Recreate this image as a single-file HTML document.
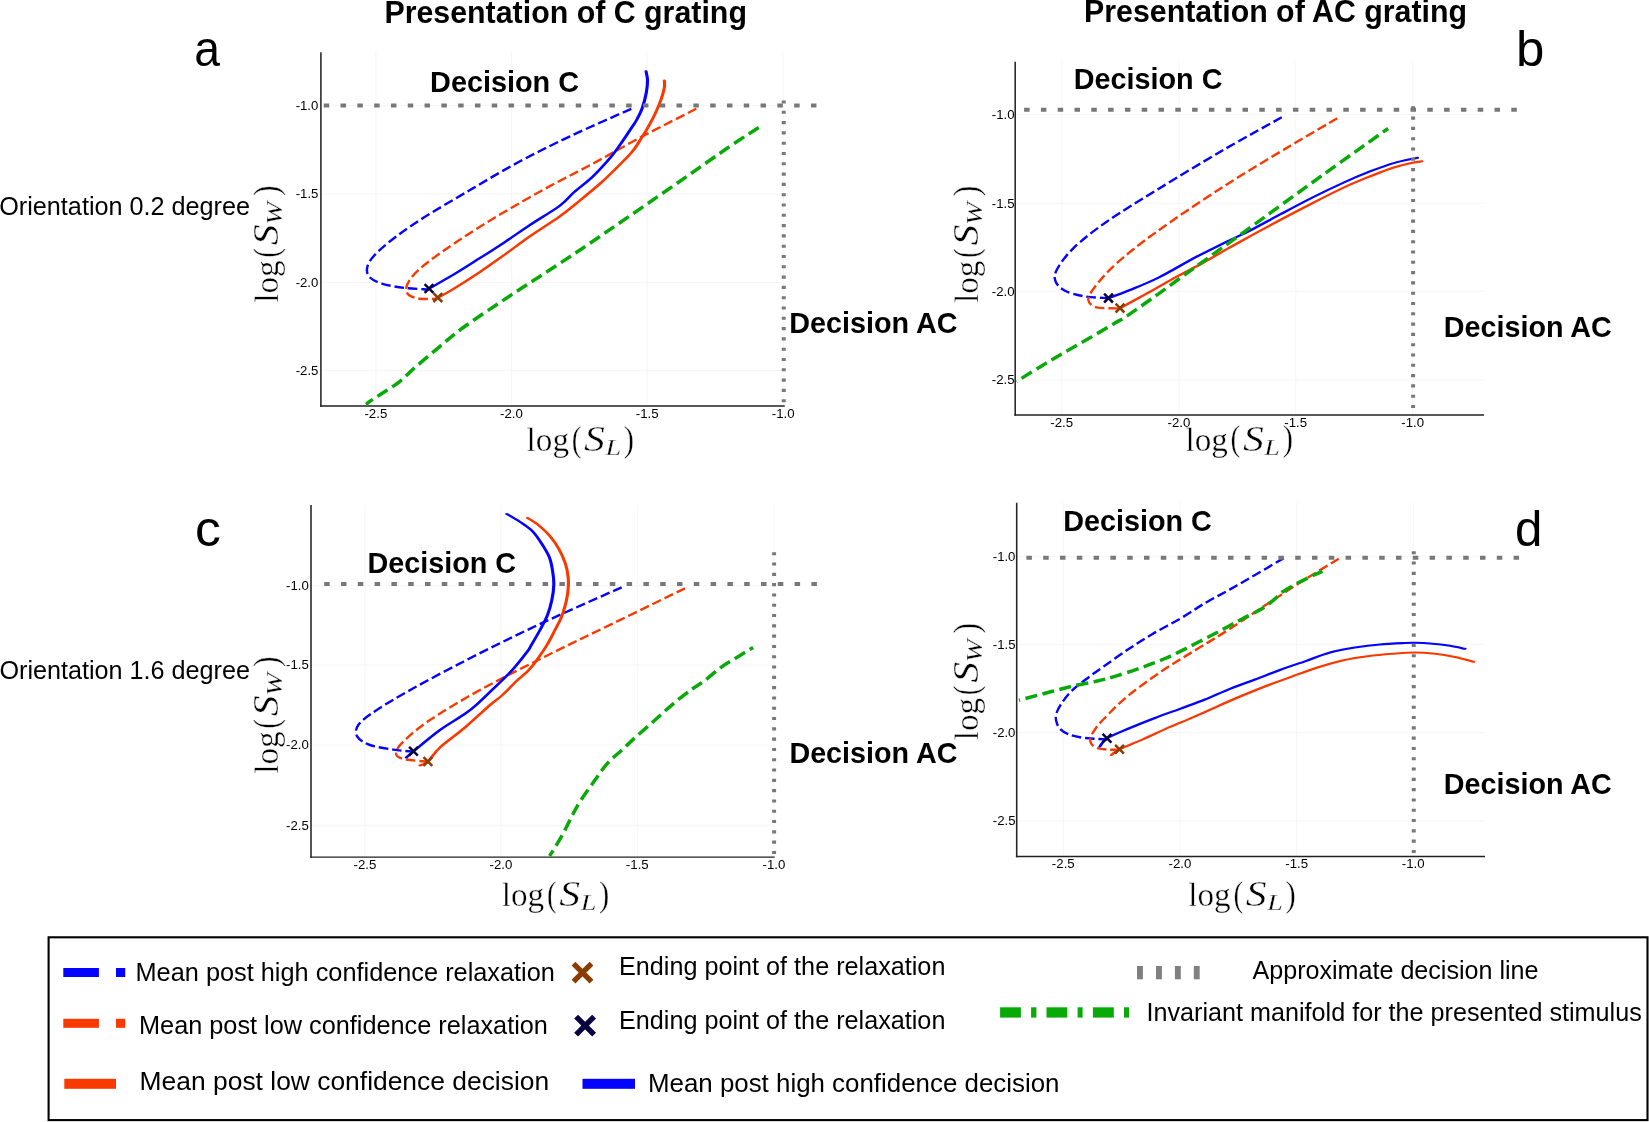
<!DOCTYPE html>
<html lang="en">
<head>
<meta charset="utf-8">
<title>Figure</title>
<style>
html,body{margin:0;padding:0;background:#fff;}
body{width:1649px;height:1122px;overflow:hidden;font-family:"Liberation Sans",sans-serif;}
svg{display:block;will-change:transform;}
text{fill:#000;}
</style>
</head>
<body>
<svg width="1649" height="1122" viewBox="0 0 1649 1122">
<rect x="0" y="0" width="1649" height="1122" fill="#ffffff"/>
<text x="384.40" y="22.50" font-family="Liberation Sans, sans-serif" font-size="30.80" font-weight="bold" font-style="normal" text-anchor="start"  textLength="362.54" lengthAdjust="spacingAndGlyphs">Presentation of C grating</text>
<text x="1084.11" y="22.40" font-family="Liberation Sans, sans-serif" font-size="30.80" font-weight="bold" font-style="normal" text-anchor="start"  textLength="382.82" lengthAdjust="spacingAndGlyphs">Presentation of AC grating</text>
<text x="194.15" y="65.80" font-family="Liberation Sans, sans-serif" font-size="50.00" font-weight="normal" font-style="normal" text-anchor="start"  textLength="25.75" lengthAdjust="spacingAndGlyphs">a</text>
<text x="1515.91" y="65.60" font-family="Liberation Sans, sans-serif" font-size="50.00" font-weight="normal" font-style="normal" text-anchor="start"  textLength="28.35" lengthAdjust="spacingAndGlyphs">b</text>
<text x="194.99" y="545.70" font-family="Liberation Sans, sans-serif" font-size="50.00" font-weight="normal" font-style="normal" text-anchor="start"  textLength="25.82" lengthAdjust="spacingAndGlyphs">c</text>
<text x="1515.06" y="545.50" font-family="Liberation Sans, sans-serif" font-size="50.00" font-weight="normal" font-style="normal" text-anchor="start"  textLength="27.41" lengthAdjust="spacingAndGlyphs">d</text>
<text x="-0.78" y="215.00" font-family="Liberation Sans, sans-serif" font-size="26.00" font-weight="normal" font-style="normal" text-anchor="start"  textLength="250.80" lengthAdjust="spacingAndGlyphs">Orientation 0.2 degree</text>
<text x="-0.58" y="678.60" font-family="Liberation Sans, sans-serif" font-size="26.00" font-weight="normal" font-style="normal" text-anchor="start"  textLength="250.60" lengthAdjust="spacingAndGlyphs">Orientation 1.6 degree</text>
<path d="M375.9 52.3 V406.0" stroke="#f5f5f5" stroke-width="1" fill="none"/>
<path d="M511.5 52.3 V406.0" stroke="#f5f5f5" stroke-width="1" fill="none"/>
<path d="M647.2 52.3 V406.0" stroke="#f5f5f5" stroke-width="1" fill="none"/>
<path d="M783.2 52.3 V406.0" stroke="#f5f5f5" stroke-width="1" fill="none"/>
<path d="M320.9 105.5 H784.8" stroke="#f5f5f5" stroke-width="1" fill="none"/>
<path d="M320.9 194.0 H784.8" stroke="#f5f5f5" stroke-width="1" fill="none"/>
<path d="M320.9 282.4 H784.8" stroke="#f5f5f5" stroke-width="1" fill="none"/>
<path d="M320.9 370.7 H784.8" stroke="#f5f5f5" stroke-width="1" fill="none"/>
<path d="M320.9 52.3 V406.7" stroke="#242424" stroke-width="1.55" fill="none"/>
<path d="M320.1 406.0 H784.8" stroke="#202020" stroke-width="1.4" fill="none"/>
<text x="364.46" y="417.90" font-family="Liberation Sans, sans-serif" font-size="12.20" font-weight="normal" font-style="normal" text-anchor="start"  textLength="22.87" lengthAdjust="spacingAndGlyphs">-2.5</text>
<text x="500.06" y="417.90" font-family="Liberation Sans, sans-serif" font-size="12.20" font-weight="normal" font-style="normal" text-anchor="start"  textLength="22.81" lengthAdjust="spacingAndGlyphs">-2.0</text>
<text x="635.76" y="417.90" font-family="Liberation Sans, sans-serif" font-size="12.20" font-weight="normal" font-style="normal" text-anchor="start"  textLength="22.87" lengthAdjust="spacingAndGlyphs">-1.5</text>
<text x="771.76" y="417.90" font-family="Liberation Sans, sans-serif" font-size="12.20" font-weight="normal" font-style="normal" text-anchor="start"  textLength="22.81" lengthAdjust="spacingAndGlyphs">-1.0</text>
<text x="295.66" y="109.80" font-family="Liberation Sans, sans-serif" font-size="12.20" font-weight="normal" font-style="normal" text-anchor="start"  textLength="22.71" lengthAdjust="spacingAndGlyphs">-1.0</text>
<text x="295.66" y="198.30" font-family="Liberation Sans, sans-serif" font-size="12.20" font-weight="normal" font-style="normal" text-anchor="start"  textLength="22.77" lengthAdjust="spacingAndGlyphs">-1.5</text>
<text x="295.66" y="286.70" font-family="Liberation Sans, sans-serif" font-size="12.20" font-weight="normal" font-style="normal" text-anchor="start"  textLength="22.71" lengthAdjust="spacingAndGlyphs">-2.0</text>
<text x="295.66" y="375.00" font-family="Liberation Sans, sans-serif" font-size="12.20" font-weight="normal" font-style="normal" text-anchor="start"  textLength="22.77" lengthAdjust="spacingAndGlyphs">-2.5</text>
<path d="M631.3 108.8C621.1 113.4 588.5 127.6 570.0 136.3C551.5 145.1 536.7 152.4 520.0 161.3C503.3 170.2 486.7 180.2 470.0 190.0C453.3 199.8 433.3 211.4 420.0 220.0C406.7 228.6 397.9 235.1 390.0 241.3C382.1 247.6 376.3 252.9 372.5 257.5C368.7 262.1 367.4 265.5 367.0 268.8C366.6 272.1 367.4 275.0 370.0 277.5C372.6 280.0 376.7 282.1 382.5 283.8C388.3 285.6 397.3 287.1 405.0 288.0C412.7 288.9 424.8 289.2 428.8 289.5" stroke="#0303ff" stroke-width="2.40" fill="none" stroke-linejoin="round" stroke-dasharray="9.5 3.9"/>
<path d="M696.3 108.8C687.3 113.4 659.4 127.4 642.5 136.3C625.6 145.2 611.2 153.8 595.0 162.5C578.8 171.2 561.7 179.6 545.0 188.8C528.3 198.0 509.6 208.8 495.0 217.5C480.4 226.2 468.8 233.8 457.5 241.3C446.2 248.8 435.0 256.7 427.5 262.5C420.0 268.3 416.0 272.1 412.5 276.3C409.0 280.5 406.9 284.4 406.3 287.5C405.7 290.6 406.5 293.1 408.8 295.0C411.1 296.9 415.4 298.2 420.0 298.8C424.6 299.4 433.6 298.8 436.3 298.8" stroke="#f93a00" stroke-width="2.40" fill="none" stroke-linejoin="round" stroke-dasharray="9.5 3.9"/>
<g transform="scale(1.500 1)"><path d="M285.9 288.8C288.8 286.3 297.6 278.9 303.3 273.8C309.0 268.7 314.4 263.4 320.0 258.1C325.6 252.8 331.1 247.4 336.7 241.9C342.2 236.4 347.2 231.1 353.3 225.0C359.4 218.9 368.5 211.0 373.3 205.6C378.2 200.2 378.9 197.3 382.5 192.5C386.1 187.7 391.0 182.6 395.0 176.9C399.0 171.2 403.3 164.0 406.7 158.1C410.0 152.2 412.5 146.6 415.0 141.3C417.5 136.0 420.1 129.8 421.7 126.3C423.2 122.8 423.3 123.1 424.4 120.0C425.5 116.9 427.3 112.1 428.3 107.5C429.4 102.9 430.3 97.1 430.9 92.5C431.4 87.9 431.7 83.5 431.7 80.0C431.6 76.5 430.8 72.8 430.7 71.3" stroke="#0303ff" stroke-width="2.08" fill="none" stroke-linejoin="round" stroke-linecap="round"/></g>
<g transform="scale(1.500 1)"><path d="M291.9 297.8C293.5 296.4 297.0 293.7 301.7 289.4C306.4 285.1 314.2 277.7 320.0 271.9C325.8 266.1 331.1 260.3 336.7 254.4C342.2 248.5 347.2 242.7 353.3 236.3C359.4 230.0 367.9 222.1 373.3 216.3C378.8 210.5 381.3 206.9 385.9 201.3C390.5 195.7 396.7 188.0 400.9 182.5C405.0 177.0 407.4 173.3 410.9 168.1C414.3 162.9 418.8 156.6 421.7 151.3C424.6 146.0 426.4 140.9 428.3 136.3C430.3 131.7 431.8 128.0 433.3 123.8C434.9 119.6 436.3 115.5 437.5 111.3C438.8 107.1 440.0 102.8 440.9 98.8C441.8 94.8 442.6 90.5 442.9 87.5C443.3 84.5 442.9 81.8 442.9 80.6" stroke="#f93a00" stroke-width="2.08" fill="none" stroke-linejoin="round" stroke-linecap="round"/></g>
<path d="M323.75 103.50h5.50v4.00h-5.50zM340.55 103.50h5.50v4.00h-5.50zM357.35 103.50h5.50v4.00h-5.50zM374.15 103.50h5.50v4.00h-5.50zM390.95 103.50h5.50v4.00h-5.50zM407.75 103.50h5.50v4.00h-5.50zM424.55 103.50h5.50v4.00h-5.50zM441.35 103.50h5.50v4.00h-5.50zM458.15 103.50h5.50v4.00h-5.50zM474.95 103.50h5.50v4.00h-5.50zM491.75 103.50h5.50v4.00h-5.50zM508.55 103.50h5.50v4.00h-5.50zM525.35 103.50h5.50v4.00h-5.50zM542.15 103.50h5.50v4.00h-5.50zM558.95 103.50h5.50v4.00h-5.50zM575.75 103.50h5.50v4.00h-5.50zM592.55 103.50h5.50v4.00h-5.50zM609.35 103.50h5.50v4.00h-5.50zM626.15 103.50h5.50v4.00h-5.50zM642.95 103.50h5.50v4.00h-5.50zM659.75 103.50h5.50v4.00h-5.50zM676.55 103.50h5.50v4.00h-5.50zM693.35 103.50h5.50v4.00h-5.50zM710.15 103.50h5.50v4.00h-5.50zM726.95 103.50h5.50v4.00h-5.50zM743.75 103.50h5.50v4.00h-5.50zM760.55 103.50h5.50v4.00h-5.50zM777.35 103.50h5.50v4.00h-5.50zM794.15 103.50h5.50v4.00h-5.50zM810.95 103.50h5.50v4.00h-5.50z" fill="#787878"/>
<path d="M781.75 100.45h4.00v3.10h-4.00zM781.75 110.75h4.00v3.10h-4.00zM781.75 121.05h4.00v3.10h-4.00zM781.75 131.35h4.00v3.10h-4.00zM781.75 141.65h4.00v3.10h-4.00zM781.75 151.95h4.00v3.10h-4.00zM781.75 162.25h4.00v3.10h-4.00zM781.75 172.55h4.00v3.10h-4.00zM781.75 182.85h4.00v3.10h-4.00zM781.75 193.15h4.00v3.10h-4.00zM781.75 203.45h4.00v3.10h-4.00zM781.75 213.75h4.00v3.10h-4.00zM781.75 224.05h4.00v3.10h-4.00zM781.75 234.35h4.00v3.10h-4.00zM781.75 244.65h4.00v3.10h-4.00zM781.75 254.95h4.00v3.10h-4.00zM781.75 265.25h4.00v3.10h-4.00zM781.75 275.55h4.00v3.10h-4.00zM781.75 285.85h4.00v3.10h-4.00zM781.75 296.15h4.00v3.10h-4.00zM781.75 306.45h4.00v3.10h-4.00zM781.75 316.75h4.00v3.10h-4.00zM781.75 327.05h4.00v3.10h-4.00zM781.75 337.35h4.00v3.10h-4.00zM781.75 347.65h4.00v3.10h-4.00zM781.75 357.95h4.00v3.10h-4.00zM781.75 368.25h4.00v3.10h-4.00zM781.75 378.55h4.00v3.10h-4.00zM781.75 388.85h4.00v3.10h-4.00zM781.75 399.15h4.00v3.10h-4.00z" fill="#787878"/>
<path d="M758.7 127.5C753.9 130.6 743.1 137.4 730.0 146.3C716.9 155.2 705.0 163.9 680.0 181.2C655.0 198.5 607.5 231.4 580.0 250.0C552.5 268.6 534.2 279.8 515.0 292.5C495.8 305.2 477.5 317.3 465.0 326.3C452.5 335.3 448.3 339.4 440.0 346.3C431.7 353.2 421.7 361.7 415.0 367.5C408.3 373.3 405.0 377.3 400.0 381.3C395.0 385.3 390.0 388.2 385.0 391.5C380.0 394.8 373.2 399.1 370.0 401.3C366.8 403.5 366.7 404.0 366.0 404.5" stroke="#08aa08" stroke-width="3.50" fill="none" stroke-linejoin="round" stroke-dasharray="12 5.5"/>
<path d="M424.6 284.1 L433.4 292.9 M424.6 292.9 L433.4 284.1" stroke="#07003e" stroke-width="2.5" fill="none"/>
<path d="M433.4 293.2 L442.2 302.0 M433.4 302.0 L442.2 293.2" stroke="#8a3d00" stroke-width="2.5" fill="none"/>
<text x="430.10" y="91.90" font-family="Liberation Sans, sans-serif" font-size="28.90" font-weight="bold" font-style="normal" text-anchor="start"  textLength="148.95" lengthAdjust="spacingAndGlyphs">Decision C</text>
<text x="789.21" y="332.90" font-family="Liberation Sans, sans-serif" font-size="28.90" font-weight="bold" font-style="normal" text-anchor="start"  textLength="168.23" lengthAdjust="spacingAndGlyphs">Decision AC</text>
<g transform="translate(527.10 449.90)" fill="#000" stroke="#fff" stroke-width="0.45"><text transform="translate(-0.52 1.20) scale(0.8303 0.8569)" x="0" y="0" font-family="Liberation Serif, serif" font-size="40.0" font-style="normal">log</text><text transform="translate(44.59 0.66) scale(0.7289 0.9193)" x="0" y="0" font-family="Liberation Serif, serif" font-size="40.0" font-style="normal">(</text><text transform="translate(57.00 0.73) scale(1.0426 0.9091)" x="0" y="0" font-family="Liberation Serif, serif" font-size="40.0" font-style="italic">S</text><text transform="translate(78.34 5.00) scale(0.7012 0.5981)" x="0" y="0" font-family="Liberation Serif, serif" font-size="40.0" font-style="italic">L</text><text transform="translate(96.74 0.66) scale(0.7718 0.9193)" x="0" y="0" font-family="Liberation Serif, serif" font-size="40.0" font-style="normal">)</text></g>
<g transform="translate(276.90 302.30) rotate(-90)" fill="#000" stroke="#fff" stroke-width="0.45"><text transform="translate(-0.52 1.20) scale(0.8303 0.8569)" x="0" y="0" font-family="Liberation Serif, serif" font-size="40.0" font-style="normal">log</text><text transform="translate(44.59 0.66) scale(0.7289 0.9193)" x="0" y="0" font-family="Liberation Serif, serif" font-size="40.0" font-style="normal">(</text><text transform="translate(57.00 0.73) scale(1.0426 0.9091)" x="0" y="0" font-family="Liberation Serif, serif" font-size="40.0" font-style="italic">S</text><text transform="translate(77.58 4.85) scale(0.6865 0.5656)" x="0" y="0" font-family="Liberation Serif, serif" font-size="40.0" font-style="italic">W</text><text transform="translate(106.30 0.66) scale(0.8000 0.9193)" x="0" y="0" font-family="Liberation Serif, serif" font-size="40.0" font-style="normal">)</text></g>
<path d="M1061.7 61.7 V415.0" stroke="#f5f5f5" stroke-width="1" fill="none"/>
<path d="M1179.0 61.7 V415.0" stroke="#f5f5f5" stroke-width="1" fill="none"/>
<path d="M1295.7 61.7 V415.0" stroke="#f5f5f5" stroke-width="1" fill="none"/>
<path d="M1412.7 61.7 V415.0" stroke="#f5f5f5" stroke-width="1" fill="none"/>
<path d="M1015.2 114.6 H1484.0" stroke="#f5f5f5" stroke-width="1" fill="none"/>
<path d="M1015.2 203.3 H1484.0" stroke="#f5f5f5" stroke-width="1" fill="none"/>
<path d="M1015.2 291.2 H1484.0" stroke="#f5f5f5" stroke-width="1" fill="none"/>
<path d="M1015.2 380.0 H1484.0" stroke="#f5f5f5" stroke-width="1" fill="none"/>
<path d="M1015.2 61.7 V415.7" stroke="#242424" stroke-width="1.55" fill="none"/>
<path d="M1014.4 415.0 H1484.0" stroke="#202020" stroke-width="1.4" fill="none"/>
<text x="1050.26" y="426.90" font-family="Liberation Sans, sans-serif" font-size="12.20" font-weight="normal" font-style="normal" text-anchor="start"  textLength="22.87" lengthAdjust="spacingAndGlyphs">-2.5</text>
<text x="1167.56" y="426.90" font-family="Liberation Sans, sans-serif" font-size="12.20" font-weight="normal" font-style="normal" text-anchor="start"  textLength="22.81" lengthAdjust="spacingAndGlyphs">-2.0</text>
<text x="1284.26" y="426.90" font-family="Liberation Sans, sans-serif" font-size="12.20" font-weight="normal" font-style="normal" text-anchor="start"  textLength="22.87" lengthAdjust="spacingAndGlyphs">-1.5</text>
<text x="1401.26" y="426.90" font-family="Liberation Sans, sans-serif" font-size="12.20" font-weight="normal" font-style="normal" text-anchor="start"  textLength="22.81" lengthAdjust="spacingAndGlyphs">-1.0</text>
<text x="991.86" y="118.90" font-family="Liberation Sans, sans-serif" font-size="12.20" font-weight="normal" font-style="normal" text-anchor="start"  textLength="22.71" lengthAdjust="spacingAndGlyphs">-1.0</text>
<text x="991.86" y="207.60" font-family="Liberation Sans, sans-serif" font-size="12.20" font-weight="normal" font-style="normal" text-anchor="start"  textLength="22.77" lengthAdjust="spacingAndGlyphs">-1.5</text>
<text x="991.86" y="295.50" font-family="Liberation Sans, sans-serif" font-size="12.20" font-weight="normal" font-style="normal" text-anchor="start"  textLength="22.71" lengthAdjust="spacingAndGlyphs">-2.0</text>
<text x="991.86" y="384.30" font-family="Liberation Sans, sans-serif" font-size="12.20" font-weight="normal" font-style="normal" text-anchor="start"  textLength="22.77" lengthAdjust="spacingAndGlyphs">-2.5</text>
<path d="M1281.7 117.3C1272.0 122.8 1244.1 137.9 1223.3 150.0C1202.5 162.1 1176.1 178.1 1156.7 190.0C1137.3 201.9 1120.6 212.0 1106.7 221.7C1092.8 231.4 1081.6 240.2 1073.3 248.3C1065.0 256.4 1059.6 264.4 1056.7 270.0C1053.8 275.6 1054.3 278.2 1055.7 281.7C1057.1 285.1 1060.4 288.3 1065.0 290.7C1069.6 293.1 1076.0 294.9 1083.3 296.2C1090.5 297.5 1104.3 297.9 1108.5 298.3" stroke="#0303ff" stroke-width="2.40" fill="none" stroke-linejoin="round" stroke-dasharray="9.5 3.9"/>
<path d="M1337.3 118.3C1329.4 122.9 1309.0 134.6 1290.0 146.0C1271.0 157.4 1245.5 172.4 1223.3 186.7C1201.1 201.0 1174.5 218.9 1156.7 231.7C1138.9 244.5 1127.0 254.1 1116.7 263.3C1106.4 272.5 1099.7 280.6 1095.0 286.7C1090.3 292.8 1088.0 296.6 1088.3 300.0C1088.6 303.4 1091.4 305.9 1096.7 307.3C1102.0 308.7 1116.1 308.2 1120.0 308.4" stroke="#f93a00" stroke-width="2.40" fill="none" stroke-linejoin="round" stroke-dasharray="9.5 3.9"/>
<g transform="scale(1.500 1)"><path d="M739.0 298.1C741.4 296.8 747.7 293.4 753.3 290.0C758.9 286.6 765.2 283.0 772.5 277.5C779.9 272.0 789.9 262.9 797.5 256.9C805.2 250.9 812.4 245.7 818.3 241.3C824.3 236.9 827.4 235.2 833.3 230.6C839.3 226.0 847.3 219.3 854.2 213.8C861.1 208.3 868.1 202.7 875.0 197.5C881.9 192.3 889.6 186.8 895.9 182.5C902.1 178.2 907.0 175.1 912.5 171.9C918.1 168.7 923.8 165.4 929.2 163.1C934.6 160.8 942.4 158.7 945.0 157.8" stroke="#0303ff" stroke-width="2.08" fill="none" stroke-linejoin="round" stroke-linecap="round"/></g>
<g transform="scale(1.500 1)"><path d="M746.7 308.1C749.6 305.7 757.8 299.1 764.2 293.8C770.6 288.5 778.8 281.4 785.0 276.3C791.2 271.2 796.1 267.7 801.7 263.1C807.2 258.5 813.1 253.3 818.3 248.8C823.6 244.3 827.4 241.2 833.3 236.3C839.3 231.4 847.3 224.9 854.2 219.4C861.1 213.9 868.1 208.4 875.0 203.1C881.9 197.8 889.6 191.9 895.9 187.5C902.1 183.1 907.0 180.2 912.5 176.9C918.1 173.6 924.3 169.8 929.2 167.5C934.1 165.2 938.5 163.8 941.7 162.8C944.8 161.8 946.9 161.6 947.9 161.3" stroke="#f93a00" stroke-width="2.08" fill="none" stroke-linejoin="round" stroke-linecap="round"/></g>
<path d="M1024.10 107.80h5.50v4.00h-5.50zM1040.90 107.80h5.50v4.00h-5.50zM1057.70 107.80h5.50v4.00h-5.50zM1074.50 107.80h5.50v4.00h-5.50zM1091.30 107.80h5.50v4.00h-5.50zM1108.10 107.80h5.50v4.00h-5.50zM1124.90 107.80h5.50v4.00h-5.50zM1141.70 107.80h5.50v4.00h-5.50zM1158.50 107.80h5.50v4.00h-5.50zM1175.30 107.80h5.50v4.00h-5.50zM1192.10 107.80h5.50v4.00h-5.50zM1208.90 107.80h5.50v4.00h-5.50zM1225.70 107.80h5.50v4.00h-5.50zM1242.50 107.80h5.50v4.00h-5.50zM1259.30 107.80h5.50v4.00h-5.50zM1276.10 107.80h5.50v4.00h-5.50zM1292.90 107.80h5.50v4.00h-5.50zM1309.70 107.80h5.50v4.00h-5.50zM1326.50 107.80h5.50v4.00h-5.50zM1343.30 107.80h5.50v4.00h-5.50zM1360.10 107.80h5.50v4.00h-5.50zM1376.90 107.80h5.50v4.00h-5.50zM1393.70 107.80h5.50v4.00h-5.50zM1410.50 107.80h5.50v4.00h-5.50zM1427.30 107.80h5.50v4.00h-5.50zM1444.10 107.80h5.50v4.00h-5.50zM1460.90 107.80h5.50v4.00h-5.50zM1477.70 107.80h5.50v4.00h-5.50zM1494.50 107.80h5.50v4.00h-5.50zM1511.30 107.80h5.50v4.00h-5.50z" fill="#787878"/>
<path d="M1411.10 106.25h4.00v3.10h-4.00zM1411.10 116.55h4.00v3.10h-4.00zM1411.10 126.85h4.00v3.10h-4.00zM1411.10 137.15h4.00v3.10h-4.00zM1411.10 147.45h4.00v3.10h-4.00zM1411.10 157.75h4.00v3.10h-4.00zM1411.10 168.05h4.00v3.10h-4.00zM1411.10 178.35h4.00v3.10h-4.00zM1411.10 188.65h4.00v3.10h-4.00zM1411.10 198.95h4.00v3.10h-4.00zM1411.10 209.25h4.00v3.10h-4.00zM1411.10 219.55h4.00v3.10h-4.00zM1411.10 229.85h4.00v3.10h-4.00zM1411.10 240.15h4.00v3.10h-4.00zM1411.10 250.45h4.00v3.10h-4.00zM1411.10 260.75h4.00v3.10h-4.00zM1411.10 271.05h4.00v3.10h-4.00zM1411.10 281.35h4.00v3.10h-4.00zM1411.10 291.65h4.00v3.10h-4.00zM1411.10 301.95h4.00v3.10h-4.00zM1411.10 312.25h4.00v3.10h-4.00zM1411.10 322.55h4.00v3.10h-4.00zM1411.10 332.85h4.00v3.10h-4.00zM1411.10 343.15h4.00v3.10h-4.00zM1411.10 353.45h4.00v3.10h-4.00zM1411.10 363.75h4.00v3.10h-4.00zM1411.10 374.05h4.00v3.10h-4.00zM1411.10 384.35h4.00v3.10h-4.00zM1411.10 394.65h4.00v3.10h-4.00zM1411.10 404.95h4.00v3.10h-4.00z" fill="#787878"/>
<path d="M1388.1 128.5C1377.3 136.2 1347.1 157.5 1323.3 174.6C1299.5 191.7 1265.1 216.8 1245.0 231.3C1224.9 245.9 1213.8 253.8 1202.5 261.9C1191.2 270.0 1185.8 274.0 1177.5 280.0C1169.2 286.0 1160.8 292.2 1152.5 298.1C1144.2 304.0 1133.8 311.4 1127.5 315.6C1121.2 319.8 1120.8 319.7 1115.0 323.1C1109.2 326.6 1101.3 331.2 1092.5 336.3C1083.7 341.4 1070.7 348.7 1061.9 353.8C1053.2 358.9 1047.6 362.3 1040.0 366.9C1032.4 371.5 1020.4 379.1 1016.5 381.5" stroke="#08aa08" stroke-width="3.50" fill="none" stroke-linejoin="round" stroke-dasharray="12 5.5" stroke-dashoffset="5.6"/>
<path d="M1104.1 293.7 L1112.9 302.5 M1104.1 302.5 L1112.9 293.7" stroke="#07003e" stroke-width="2.5" fill="none"/>
<path d="M1115.6 303.7 L1124.4 312.5 M1115.6 312.5 L1124.4 303.7" stroke="#8a3d00" stroke-width="2.5" fill="none"/>
<text x="1073.80" y="89.40" font-family="Liberation Sans, sans-serif" font-size="28.90" font-weight="bold" font-style="normal" text-anchor="start"  textLength="148.65" lengthAdjust="spacingAndGlyphs">Decision C</text>
<text x="1443.82" y="336.90" font-family="Liberation Sans, sans-serif" font-size="28.90" font-weight="bold" font-style="normal" text-anchor="start"  textLength="168.03" lengthAdjust="spacingAndGlyphs">Decision AC</text>
<g transform="translate(1186.00 449.80)" fill="#000" stroke="#fff" stroke-width="0.45"><text transform="translate(-0.52 1.20) scale(0.8303 0.8569)" x="0" y="0" font-family="Liberation Serif, serif" font-size="40.0" font-style="normal">log</text><text transform="translate(44.59 0.66) scale(0.7289 0.9193)" x="0" y="0" font-family="Liberation Serif, serif" font-size="40.0" font-style="normal">(</text><text transform="translate(57.00 0.73) scale(1.0426 0.9091)" x="0" y="0" font-family="Liberation Serif, serif" font-size="40.0" font-style="italic">S</text><text transform="translate(78.34 5.00) scale(0.7012 0.5981)" x="0" y="0" font-family="Liberation Serif, serif" font-size="40.0" font-style="italic">L</text><text transform="translate(96.74 0.66) scale(0.7718 0.9193)" x="0" y="0" font-family="Liberation Serif, serif" font-size="40.0" font-style="normal">)</text></g>
<g transform="translate(977.20 302.50) rotate(-90)" fill="#000" stroke="#fff" stroke-width="0.45"><text transform="translate(-0.52 1.20) scale(0.8303 0.8569)" x="0" y="0" font-family="Liberation Serif, serif" font-size="40.0" font-style="normal">log</text><text transform="translate(44.59 0.66) scale(0.7289 0.9193)" x="0" y="0" font-family="Liberation Serif, serif" font-size="40.0" font-style="normal">(</text><text transform="translate(57.00 0.73) scale(1.0426 0.9091)" x="0" y="0" font-family="Liberation Serif, serif" font-size="40.0" font-style="italic">S</text><text transform="translate(77.58 4.85) scale(0.6865 0.5656)" x="0" y="0" font-family="Liberation Serif, serif" font-size="40.0" font-style="italic">W</text><text transform="translate(106.30 0.66) scale(0.8000 0.9193)" x="0" y="0" font-family="Liberation Serif, serif" font-size="40.0" font-style="normal">)</text></g>
<path d="M365.0 505.0 V857.1" stroke="#f5f5f5" stroke-width="1" fill="none"/>
<path d="M501.0 505.0 V857.1" stroke="#f5f5f5" stroke-width="1" fill="none"/>
<path d="M637.3 505.0 V857.1" stroke="#f5f5f5" stroke-width="1" fill="none"/>
<path d="M774.0 505.0 V857.1" stroke="#f5f5f5" stroke-width="1" fill="none"/>
<path d="M311.0 585.7 H774.7" stroke="#f5f5f5" stroke-width="1" fill="none"/>
<path d="M311.0 665.0 H774.7" stroke="#f5f5f5" stroke-width="1" fill="none"/>
<path d="M311.0 745.0 H774.7" stroke="#f5f5f5" stroke-width="1" fill="none"/>
<path d="M311.0 825.2 H774.7" stroke="#f5f5f5" stroke-width="1" fill="none"/>
<path d="M311.0 505.0 V857.8" stroke="#242424" stroke-width="1.55" fill="none"/>
<path d="M310.2 857.1 H774.7" stroke="#202020" stroke-width="1.4" fill="none"/>
<text x="353.56" y="869.00" font-family="Liberation Sans, sans-serif" font-size="12.20" font-weight="normal" font-style="normal" text-anchor="start"  textLength="22.87" lengthAdjust="spacingAndGlyphs">-2.5</text>
<text x="489.56" y="869.00" font-family="Liberation Sans, sans-serif" font-size="12.20" font-weight="normal" font-style="normal" text-anchor="start"  textLength="22.81" lengthAdjust="spacingAndGlyphs">-2.0</text>
<text x="625.86" y="869.00" font-family="Liberation Sans, sans-serif" font-size="12.20" font-weight="normal" font-style="normal" text-anchor="start"  textLength="22.87" lengthAdjust="spacingAndGlyphs">-1.5</text>
<text x="762.56" y="869.00" font-family="Liberation Sans, sans-serif" font-size="12.20" font-weight="normal" font-style="normal" text-anchor="start"  textLength="22.81" lengthAdjust="spacingAndGlyphs">-1.0</text>
<text x="286.06" y="590.00" font-family="Liberation Sans, sans-serif" font-size="12.20" font-weight="normal" font-style="normal" text-anchor="start"  textLength="22.71" lengthAdjust="spacingAndGlyphs">-1.0</text>
<text x="286.06" y="669.30" font-family="Liberation Sans, sans-serif" font-size="12.20" font-weight="normal" font-style="normal" text-anchor="start"  textLength="22.77" lengthAdjust="spacingAndGlyphs">-1.5</text>
<text x="286.06" y="749.30" font-family="Liberation Sans, sans-serif" font-size="12.20" font-weight="normal" font-style="normal" text-anchor="start"  textLength="22.71" lengthAdjust="spacingAndGlyphs">-2.0</text>
<text x="286.06" y="829.50" font-family="Liberation Sans, sans-serif" font-size="12.20" font-weight="normal" font-style="normal" text-anchor="start"  textLength="22.77" lengthAdjust="spacingAndGlyphs">-2.5</text>
<path d="M621.7 587.3C612.0 591.6 581.4 605.1 563.3 613.3C545.2 621.5 530.0 628.6 513.3 636.7C496.6 644.8 480.0 653.1 463.3 661.7C446.6 670.3 427.7 680.2 413.3 688.3C398.9 696.3 385.9 703.9 376.7 710.0C367.5 716.1 361.5 720.5 358.3 725.0C355.1 729.5 355.4 733.4 357.3 736.7C359.2 740.0 364.0 742.9 370.0 745.0C376.0 747.1 386.1 748.5 393.3 749.6C400.6 750.7 410.1 751.3 413.5 751.6" stroke="#0303ff" stroke-width="2.40" fill="none" stroke-linejoin="round" stroke-dasharray="9.5 3.9"/>
<path d="M685.0 588.3C673.0 594.1 636.3 612.1 613.3 623.3C590.2 634.5 568.9 644.6 546.7 655.7C524.5 666.8 499.4 679.3 480.0 690.0C460.6 700.7 442.8 711.4 430.0 720.0C417.2 728.6 409.0 736.2 403.3 741.7C397.6 747.2 396.0 750.4 396.0 753.3C396.0 756.2 398.0 757.6 403.3 759.0C408.6 760.4 423.8 761.3 427.9 761.8" stroke="#f93a00" stroke-width="2.40" fill="none" stroke-linejoin="round" stroke-dasharray="9.5 3.9"/>
<g transform="scale(1.500 1)"><path d="M270.9 757.5C271.7 756.5 271.9 755.9 275.7 751.3C279.4 746.7 287.6 736.2 293.3 730.0C299.1 723.8 305.8 718.2 310.0 713.8C314.2 709.4 315.6 707.4 318.3 703.8C321.1 700.1 323.9 695.9 326.7 691.9C329.4 687.9 332.2 684.2 335.0 680.0C337.8 675.8 340.6 671.7 343.3 666.9C346.1 662.1 349.9 654.9 351.7 651.3C353.5 647.7 352.8 648.6 354.2 645.1C355.6 641.6 358.2 635.0 360.0 630.0C361.8 625.0 363.7 620.0 365.0 615.0C366.3 610.0 367.2 605.0 367.9 600.0C368.6 595.0 369.1 590.0 369.2 585.0C369.3 580.0 368.8 574.6 368.3 570.0C367.8 565.4 367.4 561.7 366.3 557.5C365.2 553.3 363.5 549.4 361.7 545.0C359.8 540.6 357.5 535.1 355.0 531.3C352.5 527.4 349.5 524.8 346.7 521.9C343.8 519.0 339.4 515.3 337.9 514.0" stroke="#0303ff" stroke-width="2.08" fill="none" stroke-linejoin="round" stroke-linecap="round"/></g>
<g transform="scale(1.500 1)"><path d="M280.0 765.4C280.9 764.8 283.0 764.5 285.3 761.5C287.5 758.5 289.2 753.2 293.3 747.5C297.5 741.8 304.4 734.6 310.0 727.5C315.6 720.4 322.5 710.4 326.7 705.0C330.8 699.6 332.2 698.8 335.0 695.0C337.8 691.2 340.6 686.5 343.3 682.5C346.1 678.5 349.4 674.6 351.7 671.3C353.9 668.0 354.5 666.9 356.7 662.5C358.8 658.1 362.4 650.5 364.6 645.1C366.8 639.7 368.4 634.6 370.0 630.0C371.6 625.4 373.0 621.9 374.2 617.5C375.4 613.1 376.3 608.4 377.1 603.8C377.8 599.2 378.5 594.6 378.7 590.0C379.0 585.4 379.1 580.9 378.7 576.3C378.4 571.7 377.7 567.1 376.7 562.5C375.6 557.9 374.2 553.2 372.5 548.8C370.9 544.4 368.8 540.0 366.7 536.3C364.6 532.5 362.5 529.4 360.0 526.3C357.5 523.2 353.1 519.3 351.7 517.9" stroke="#f93a00" stroke-width="2.08" fill="none" stroke-linejoin="round" stroke-linecap="round"/></g>
<path d="M324.20 582.00h5.50v4.00h-5.50zM341.00 582.00h5.50v4.00h-5.50zM357.80 582.00h5.50v4.00h-5.50zM374.60 582.00h5.50v4.00h-5.50zM391.40 582.00h5.50v4.00h-5.50zM408.20 582.00h5.50v4.00h-5.50zM425.00 582.00h5.50v4.00h-5.50zM441.80 582.00h5.50v4.00h-5.50zM458.60 582.00h5.50v4.00h-5.50zM475.40 582.00h5.50v4.00h-5.50zM492.20 582.00h5.50v4.00h-5.50zM509.00 582.00h5.50v4.00h-5.50zM525.80 582.00h5.50v4.00h-5.50zM542.60 582.00h5.50v4.00h-5.50zM559.40 582.00h5.50v4.00h-5.50zM576.20 582.00h5.50v4.00h-5.50zM593.00 582.00h5.50v4.00h-5.50zM609.80 582.00h5.50v4.00h-5.50zM626.60 582.00h5.50v4.00h-5.50zM643.40 582.00h5.50v4.00h-5.50zM660.20 582.00h5.50v4.00h-5.50zM677.00 582.00h5.50v4.00h-5.50zM693.80 582.00h5.50v4.00h-5.50zM710.60 582.00h5.50v4.00h-5.50zM727.40 582.00h5.50v4.00h-5.50zM744.20 582.00h5.50v4.00h-5.50zM761.00 582.00h5.50v4.00h-5.50zM777.80 582.00h5.50v4.00h-5.50zM794.60 582.00h5.50v4.00h-5.50zM811.40 582.00h5.50v4.00h-5.50z" fill="#787878"/>
<path d="M772.10 552.20h4.00v3.10h-4.00zM772.10 562.50h4.00v3.10h-4.00zM772.10 572.80h4.00v3.10h-4.00zM772.10 583.10h4.00v3.10h-4.00zM772.10 593.40h4.00v3.10h-4.00zM772.10 603.70h4.00v3.10h-4.00zM772.10 614.00h4.00v3.10h-4.00zM772.10 624.30h4.00v3.10h-4.00zM772.10 634.60h4.00v3.10h-4.00zM772.10 644.90h4.00v3.10h-4.00zM772.10 655.20h4.00v3.10h-4.00zM772.10 665.50h4.00v3.10h-4.00zM772.10 675.80h4.00v3.10h-4.00zM772.10 686.10h4.00v3.10h-4.00zM772.10 696.40h4.00v3.10h-4.00zM772.10 706.70h4.00v3.10h-4.00zM772.10 717.00h4.00v3.10h-4.00zM772.10 727.30h4.00v3.10h-4.00zM772.10 737.60h4.00v3.10h-4.00zM772.10 747.90h4.00v3.10h-4.00zM772.10 758.20h4.00v3.10h-4.00zM772.10 768.50h4.00v3.10h-4.00zM772.10 778.80h4.00v3.10h-4.00zM772.10 789.10h4.00v3.10h-4.00zM772.10 799.40h4.00v3.10h-4.00zM772.10 809.70h4.00v3.10h-4.00zM772.10 820.00h4.00v3.10h-4.00zM772.10 830.30h4.00v3.10h-4.00zM772.10 840.60h4.00v3.10h-4.00zM772.10 850.90h4.00v3.10h-4.00z" fill="#787878"/>
<path d="M753.1 647.4C750.0 649.3 740.2 655.3 734.7 658.7C729.2 662.1 725.4 664.1 720.3 667.9C715.2 671.6 708.7 677.6 703.9 681.2C699.1 684.8 696.7 685.6 691.6 689.4C686.5 693.2 679.3 698.7 673.2 703.8C667.1 708.9 660.9 714.7 654.8 720.2C648.6 725.7 641.8 731.7 636.3 736.6C630.8 741.5 626.8 745.5 622.0 749.9C617.2 754.3 612.1 758.2 607.6 763.2C603.1 768.2 599.7 773.5 595.3 779.6C590.9 785.8 584.8 794.3 581.0 800.1C577.2 805.9 575.5 809.3 572.8 814.4C570.1 819.5 567.3 825.7 564.6 830.8C561.9 835.9 558.9 841.0 556.4 845.2C553.9 849.4 550.7 854.2 549.6 856.0" stroke="#08aa08" stroke-width="3.50" fill="none" stroke-linejoin="round" stroke-dasharray="12 5.5" stroke-dashoffset="8.0"/>
<path d="M409.1 746.9 L417.9 755.7 M409.1 755.7 L417.9 746.9" stroke="#07003e" stroke-width="2.5" fill="none"/>
<path d="M423.5 757.1 L432.3 765.9 M423.5 765.9 L432.3 757.1" stroke="#8a3d00" stroke-width="2.5" fill="none"/>
<text x="367.60" y="572.50" font-family="Liberation Sans, sans-serif" font-size="28.90" font-weight="bold" font-style="normal" text-anchor="start"  textLength="148.54" lengthAdjust="spacingAndGlyphs">Decision C</text>
<text x="789.42" y="762.90" font-family="Liberation Sans, sans-serif" font-size="28.90" font-weight="bold" font-style="normal" text-anchor="start"  textLength="168.03" lengthAdjust="spacingAndGlyphs">Decision AC</text>
<g transform="translate(502.30 905.00)" fill="#000" stroke="#fff" stroke-width="0.45"><text transform="translate(-0.52 1.20) scale(0.8303 0.8569)" x="0" y="0" font-family="Liberation Serif, serif" font-size="40.0" font-style="normal">log</text><text transform="translate(44.59 0.66) scale(0.7289 0.9193)" x="0" y="0" font-family="Liberation Serif, serif" font-size="40.0" font-style="normal">(</text><text transform="translate(57.00 0.73) scale(1.0426 0.9091)" x="0" y="0" font-family="Liberation Serif, serif" font-size="40.0" font-style="italic">S</text><text transform="translate(78.34 5.00) scale(0.7012 0.5981)" x="0" y="0" font-family="Liberation Serif, serif" font-size="40.0" font-style="italic">L</text><text transform="translate(96.74 0.66) scale(0.7718 0.9193)" x="0" y="0" font-family="Liberation Serif, serif" font-size="40.0" font-style="normal">)</text></g>
<g transform="translate(276.90 773.30) rotate(-90)" fill="#000" stroke="#fff" stroke-width="0.45"><text transform="translate(-0.52 1.20) scale(0.8303 0.8569)" x="0" y="0" font-family="Liberation Serif, serif" font-size="40.0" font-style="normal">log</text><text transform="translate(44.59 0.66) scale(0.7289 0.9193)" x="0" y="0" font-family="Liberation Serif, serif" font-size="40.0" font-style="normal">(</text><text transform="translate(57.00 0.73) scale(1.0426 0.9091)" x="0" y="0" font-family="Liberation Serif, serif" font-size="40.0" font-style="italic">S</text><text transform="translate(77.58 4.85) scale(0.6865 0.5656)" x="0" y="0" font-family="Liberation Serif, serif" font-size="40.0" font-style="italic">W</text><text transform="translate(106.30 0.66) scale(0.8000 0.9193)" x="0" y="0" font-family="Liberation Serif, serif" font-size="40.0" font-style="normal">)</text></g>
<path d="M1063.3 502.7 V856.5" stroke="#f5f5f5" stroke-width="1" fill="none"/>
<path d="M1180.0 502.7 V856.5" stroke="#f5f5f5" stroke-width="1" fill="none"/>
<path d="M1296.7 502.7 V856.5" stroke="#f5f5f5" stroke-width="1" fill="none"/>
<path d="M1413.3 502.7 V856.5" stroke="#f5f5f5" stroke-width="1" fill="none"/>
<path d="M1016.7 556.7 H1485.0" stroke="#f5f5f5" stroke-width="1" fill="none"/>
<path d="M1016.7 644.3 H1485.0" stroke="#f5f5f5" stroke-width="1" fill="none"/>
<path d="M1016.7 732.7 H1485.0" stroke="#f5f5f5" stroke-width="1" fill="none"/>
<path d="M1016.7 821.0 H1485.0" stroke="#f5f5f5" stroke-width="1" fill="none"/>
<path d="M1016.7 502.7 V857.2" stroke="#242424" stroke-width="1.55" fill="none"/>
<path d="M1015.9 856.5 H1485.0" stroke="#202020" stroke-width="1.4" fill="none"/>
<text x="1051.86" y="868.40" font-family="Liberation Sans, sans-serif" font-size="12.20" font-weight="normal" font-style="normal" text-anchor="start"  textLength="22.87" lengthAdjust="spacingAndGlyphs">-2.5</text>
<text x="1168.56" y="868.40" font-family="Liberation Sans, sans-serif" font-size="12.20" font-weight="normal" font-style="normal" text-anchor="start"  textLength="22.81" lengthAdjust="spacingAndGlyphs">-2.0</text>
<text x="1285.26" y="868.40" font-family="Liberation Sans, sans-serif" font-size="12.20" font-weight="normal" font-style="normal" text-anchor="start"  textLength="22.87" lengthAdjust="spacingAndGlyphs">-1.5</text>
<text x="1401.86" y="868.40" font-family="Liberation Sans, sans-serif" font-size="12.20" font-weight="normal" font-style="normal" text-anchor="start"  textLength="22.81" lengthAdjust="spacingAndGlyphs">-1.0</text>
<text x="992.76" y="561.00" font-family="Liberation Sans, sans-serif" font-size="12.20" font-weight="normal" font-style="normal" text-anchor="start"  textLength="22.71" lengthAdjust="spacingAndGlyphs">-1.0</text>
<text x="992.76" y="648.60" font-family="Liberation Sans, sans-serif" font-size="12.20" font-weight="normal" font-style="normal" text-anchor="start"  textLength="22.77" lengthAdjust="spacingAndGlyphs">-1.5</text>
<text x="992.76" y="737.00" font-family="Liberation Sans, sans-serif" font-size="12.20" font-weight="normal" font-style="normal" text-anchor="start"  textLength="22.71" lengthAdjust="spacingAndGlyphs">-2.0</text>
<text x="992.76" y="825.30" font-family="Liberation Sans, sans-serif" font-size="12.20" font-weight="normal" font-style="normal" text-anchor="start"  textLength="22.77" lengthAdjust="spacingAndGlyphs">-2.5</text>
<path d="M1283.8 558.1C1279.0 560.9 1264.0 569.8 1255.0 575.0C1246.0 580.2 1238.3 584.7 1230.0 589.4C1221.7 594.1 1213.3 598.2 1205.0 603.1C1196.7 608.0 1188.8 613.6 1180.0 618.8C1171.2 623.9 1161.2 628.8 1152.5 634.0C1143.8 639.2 1135.8 644.2 1127.5 649.8C1119.2 655.3 1109.6 662.3 1102.5 667.3C1095.4 672.3 1090.2 676.0 1085.0 680.0C1079.8 684.0 1075.2 687.3 1071.3 691.3C1067.3 695.3 1063.8 700.0 1061.3 703.8C1058.8 707.5 1057.1 710.9 1056.3 713.8C1055.5 716.7 1055.7 718.8 1056.3 721.3C1056.9 723.8 1057.9 726.6 1060.0 728.8C1062.1 731.0 1065.2 732.9 1068.8 734.4C1072.3 735.9 1076.9 736.8 1081.3 737.5C1085.7 738.2 1090.7 738.5 1095.0 738.8C1099.3 739.1 1105.0 739.3 1107.0 739.4" stroke="#0303ff" stroke-width="2.40" fill="none" stroke-linejoin="round" stroke-dasharray="9.5 3.9"/>
<path d="M1338.8 558.8C1333.2 562.2 1316.9 571.9 1305.0 579.4C1293.1 586.9 1280.0 595.6 1267.5 603.8C1255.0 612.0 1240.8 621.8 1230.0 628.8C1219.2 635.8 1211.2 640.4 1202.5 645.8C1193.8 651.2 1185.8 655.7 1177.5 661.0C1169.2 666.3 1160.8 671.6 1152.5 677.5C1144.2 683.4 1134.8 690.2 1127.5 696.3C1120.2 702.3 1114.0 708.6 1108.8 713.8C1103.6 719.0 1099.3 723.5 1096.3 727.5C1093.3 731.5 1091.4 734.8 1090.6 737.5C1089.8 740.2 1090.1 742.0 1091.3 743.8C1092.5 745.6 1094.6 747.1 1097.5 748.1C1100.4 749.1 1105.1 749.4 1108.8 749.6C1112.5 749.9 1117.7 749.6 1119.5 749.6" stroke="#f93a00" stroke-width="2.40" fill="none" stroke-linejoin="round" stroke-dasharray="9.5 3.9"/>
<g transform="scale(1.500 1)"><path d="M733.3 746.3C734.1 745.0 734.7 741.3 738.0 738.3C741.3 735.2 748.0 731.4 753.3 728.0C758.7 724.6 764.4 721.2 770.0 718.0C775.6 714.8 781.1 711.9 786.7 708.8C792.2 705.7 797.8 702.8 803.3 699.5C808.9 696.2 814.4 692.1 820.0 688.8C825.6 685.5 831.1 682.6 836.7 679.5C842.2 676.4 847.8 673.0 853.3 670.0C858.9 667.0 864.4 664.2 870.0 661.3C875.6 658.4 881.1 654.8 886.7 652.5C892.2 650.2 897.8 648.8 903.3 647.5C908.9 646.2 914.4 645.2 920.0 644.5C925.6 643.8 932.8 643.3 936.7 643.0C940.6 642.7 940.6 642.7 943.3 642.8C946.1 642.9 949.4 643.0 953.3 643.5C957.2 644.0 962.8 644.9 966.7 645.8C970.6 646.7 975.0 648.3 976.7 648.8" stroke="#0303ff" stroke-width="2.08" fill="none" stroke-linejoin="round" stroke-linecap="round"/></g>
<g transform="scale(1.500 1)"><path d="M740.9 755.0C741.8 754.0 742.9 751.9 746.3 749.3C749.8 746.7 756.3 743.0 761.7 739.5C767.0 736.0 772.8 731.7 778.3 728.0C783.9 724.3 789.4 721.1 795.0 717.5C800.6 713.9 806.1 710.0 811.7 706.3C817.2 702.6 822.8 699.0 828.3 695.5C833.9 692.0 839.4 688.7 845.0 685.5C850.6 682.3 856.1 679.3 861.7 676.3C867.2 673.3 872.8 670.1 878.3 667.5C883.9 664.9 889.4 662.4 895.0 660.5C900.6 658.6 906.1 657.4 911.7 656.3C917.2 655.2 923.1 654.4 928.3 653.8C933.6 653.2 938.6 652.5 943.3 652.5C948.1 652.5 952.2 653.0 956.7 653.8C961.1 654.5 965.7 655.7 970.0 657.0C974.3 658.3 980.4 661.0 982.5 661.8" stroke="#f93a00" stroke-width="2.08" fill="none" stroke-linejoin="round" stroke-linecap="round"/></g>
<path d="M1026.40 555.80h5.50v4.00h-5.50zM1043.20 555.80h5.50v4.00h-5.50zM1060.00 555.80h5.50v4.00h-5.50zM1076.80 555.80h5.50v4.00h-5.50zM1093.60 555.80h5.50v4.00h-5.50zM1110.40 555.80h5.50v4.00h-5.50zM1127.20 555.80h5.50v4.00h-5.50zM1144.00 555.80h5.50v4.00h-5.50zM1160.80 555.80h5.50v4.00h-5.50zM1177.60 555.80h5.50v4.00h-5.50zM1194.40 555.80h5.50v4.00h-5.50zM1211.20 555.80h5.50v4.00h-5.50zM1228.00 555.80h5.50v4.00h-5.50zM1244.80 555.80h5.50v4.00h-5.50zM1261.60 555.80h5.50v4.00h-5.50zM1278.40 555.80h5.50v4.00h-5.50zM1295.20 555.80h5.50v4.00h-5.50zM1312.00 555.80h5.50v4.00h-5.50zM1328.80 555.80h5.50v4.00h-5.50zM1345.60 555.80h5.50v4.00h-5.50zM1362.40 555.80h5.50v4.00h-5.50zM1379.20 555.80h5.50v4.00h-5.50zM1396.00 555.80h5.50v4.00h-5.50zM1412.80 555.80h5.50v4.00h-5.50zM1429.60 555.80h5.50v4.00h-5.50zM1446.40 555.80h5.50v4.00h-5.50zM1463.20 555.80h5.50v4.00h-5.50zM1480.00 555.80h5.50v4.00h-5.50zM1496.80 555.80h5.50v4.00h-5.50zM1513.60 555.80h5.50v4.00h-5.50z" fill="#787878"/>
<path d="M1411.75 551.20h4.00v3.10h-4.00zM1411.75 561.50h4.00v3.10h-4.00zM1411.75 571.80h4.00v3.10h-4.00zM1411.75 582.10h4.00v3.10h-4.00zM1411.75 592.40h4.00v3.10h-4.00zM1411.75 602.70h4.00v3.10h-4.00zM1411.75 613.00h4.00v3.10h-4.00zM1411.75 623.30h4.00v3.10h-4.00zM1411.75 633.60h4.00v3.10h-4.00zM1411.75 643.90h4.00v3.10h-4.00zM1411.75 654.20h4.00v3.10h-4.00zM1411.75 664.50h4.00v3.10h-4.00zM1411.75 674.80h4.00v3.10h-4.00zM1411.75 685.10h4.00v3.10h-4.00zM1411.75 695.40h4.00v3.10h-4.00zM1411.75 705.70h4.00v3.10h-4.00zM1411.75 716.00h4.00v3.10h-4.00zM1411.75 726.30h4.00v3.10h-4.00zM1411.75 736.60h4.00v3.10h-4.00zM1411.75 746.90h4.00v3.10h-4.00zM1411.75 757.20h4.00v3.10h-4.00zM1411.75 767.50h4.00v3.10h-4.00zM1411.75 777.80h4.00v3.10h-4.00zM1411.75 788.10h4.00v3.10h-4.00zM1411.75 798.40h4.00v3.10h-4.00zM1411.75 808.70h4.00v3.10h-4.00zM1411.75 819.00h4.00v3.10h-4.00zM1411.75 829.30h4.00v3.10h-4.00zM1411.75 839.60h4.00v3.10h-4.00zM1411.75 849.90h4.00v3.10h-4.00z" fill="#787878"/>
<path d="M1322.5 571.3C1320.6 572.1 1315.7 574.2 1311.3 576.3C1306.9 578.4 1301.1 581.2 1296.3 583.8C1291.5 586.4 1286.0 589.4 1282.5 591.9C1279.0 594.4 1277.5 596.6 1275.0 598.8C1272.5 601.0 1270.4 602.9 1267.5 605.0C1264.6 607.1 1261.7 609.0 1257.5 611.3C1253.3 613.6 1247.1 616.4 1242.5 618.8C1237.9 621.2 1234.6 623.0 1230.0 625.5C1225.4 628.0 1221.7 630.0 1215.0 633.5C1208.3 637.0 1198.3 642.3 1190.0 646.5C1181.7 650.7 1173.3 654.9 1165.0 658.5C1156.7 662.1 1148.3 665.1 1140.0 668.1C1131.7 671.1 1122.3 674.1 1115.0 676.3C1107.7 678.5 1103.0 679.8 1096.3 681.3C1089.6 682.8 1082.3 683.9 1075.0 685.6C1067.7 687.3 1061.8 688.8 1052.5 691.3C1043.2 693.8 1024.6 698.8 1019.0 700.3" stroke="#08aa08" stroke-width="3.50" fill="none" stroke-linejoin="round" stroke-dasharray="12 5.5" stroke-dashoffset="1.0"/>
<path d="M1102.6 733.9 L1111.4 742.7 M1102.6 742.7 L1111.4 733.9" stroke="#07003e" stroke-width="2.5" fill="none"/>
<path d="M1115.1 744.9 L1123.9 753.7 M1115.1 753.7 L1123.9 744.9" stroke="#8a3d00" stroke-width="2.5" fill="none"/>
<text x="1063.20" y="531.00" font-family="Liberation Sans, sans-serif" font-size="28.90" font-weight="bold" font-style="normal" text-anchor="start"  textLength="148.65" lengthAdjust="spacingAndGlyphs">Decision C</text>
<text x="1443.82" y="794.10" font-family="Liberation Sans, sans-serif" font-size="28.90" font-weight="bold" font-style="normal" text-anchor="start"  textLength="168.03" lengthAdjust="spacingAndGlyphs">Decision AC</text>
<g transform="translate(1188.80 905.00)" fill="#000" stroke="#fff" stroke-width="0.45"><text transform="translate(-0.52 1.20) scale(0.8303 0.8569)" x="0" y="0" font-family="Liberation Serif, serif" font-size="40.0" font-style="normal">log</text><text transform="translate(44.59 0.66) scale(0.7289 0.9193)" x="0" y="0" font-family="Liberation Serif, serif" font-size="40.0" font-style="normal">(</text><text transform="translate(57.00 0.73) scale(1.0426 0.9091)" x="0" y="0" font-family="Liberation Serif, serif" font-size="40.0" font-style="italic">S</text><text transform="translate(78.34 5.00) scale(0.7012 0.5981)" x="0" y="0" font-family="Liberation Serif, serif" font-size="40.0" font-style="italic">L</text><text transform="translate(96.74 0.66) scale(0.7718 0.9193)" x="0" y="0" font-family="Liberation Serif, serif" font-size="40.0" font-style="normal">)</text></g>
<g transform="translate(977.00 739.80) rotate(-90)" fill="#000" stroke="#fff" stroke-width="0.45"><text transform="translate(-0.52 1.20) scale(0.8303 0.8569)" x="0" y="0" font-family="Liberation Serif, serif" font-size="40.0" font-style="normal">log</text><text transform="translate(44.59 0.66) scale(0.7289 0.9193)" x="0" y="0" font-family="Liberation Serif, serif" font-size="40.0" font-style="normal">(</text><text transform="translate(57.00 0.73) scale(1.0426 0.9091)" x="0" y="0" font-family="Liberation Serif, serif" font-size="40.0" font-style="italic">S</text><text transform="translate(77.58 4.85) scale(0.6865 0.5656)" x="0" y="0" font-family="Liberation Serif, serif" font-size="40.0" font-style="italic">W</text><text transform="translate(106.30 0.66) scale(0.8000 0.9193)" x="0" y="0" font-family="Liberation Serif, serif" font-size="40.0" font-style="normal">)</text></g>
<rect x="48.6" y="937.3" width="1598.9" height="182.8" fill="none" stroke="#000" stroke-width="2.1"/>
<rect x="63.3" y="968" width="35.6" height="9" fill="#0303ff"/>
<rect x="116" y="968" width="9.2" height="9" fill="#0303ff"/>
<text x="135.52" y="981.00" font-family="Liberation Sans, sans-serif" font-size="26.00" font-weight="normal" font-style="normal" text-anchor="start"  textLength="419.40" lengthAdjust="spacingAndGlyphs">Mean post high confidence relaxation</text>
<rect x="63.3" y="1018.8" width="35.6" height="9" fill="#f93a00"/>
<rect x="116" y="1018.8" width="9.2" height="9" fill="#f93a00"/>
<text x="139.03" y="1034.00" font-family="Liberation Sans, sans-serif" font-size="26.00" font-weight="normal" font-style="normal" text-anchor="start"  textLength="408.89" lengthAdjust="spacingAndGlyphs">Mean post low confidence relaxation</text>
<rect x="64.3" y="1078.8" width="51.7" height="10" fill="#f93a00"/>
<text x="139.64" y="1090.00" font-family="Liberation Sans, sans-serif" font-size="26.00" font-weight="normal" font-style="normal" text-anchor="start"  textLength="409.55" lengthAdjust="spacingAndGlyphs">Mean post low confidence decision</text>
<path d="M573.5 963.7 L591.5 981.7 M573.5 981.7 L591.5 963.7" stroke="#8a3d00" stroke-width="5.4" fill="none"/>
<path d="M576.1 1016.6 L594.1 1034.6 M576.1 1034.6 L594.1 1016.6" stroke="#07003e" stroke-width="5.4" fill="none"/>
<text x="619.03" y="975.00" font-family="Liberation Sans, sans-serif" font-size="26.00" font-weight="normal" font-style="normal" text-anchor="start"  textLength="326.38" lengthAdjust="spacingAndGlyphs">Ending point of the relaxation</text>
<text x="619.03" y="1028.50" font-family="Liberation Sans, sans-serif" font-size="26.00" font-weight="normal" font-style="normal" text-anchor="start"  textLength="326.38" lengthAdjust="spacingAndGlyphs">Ending point of the relaxation</text>
<rect x="582.5" y="1078.8" width="52.5" height="10" fill="#0303ff"/>
<text x="647.98" y="1091.50" font-family="Liberation Sans, sans-serif" font-size="26.00" font-weight="normal" font-style="normal" text-anchor="start"  textLength="411.48" lengthAdjust="spacingAndGlyphs">Mean post high confidence decision</text>
<rect x="1137.0" y="966" width="5.9" height="13.3" fill="#808080"/>
<rect x="1156.0" y="966" width="5.9" height="13.3" fill="#808080"/>
<rect x="1174.9" y="966" width="5.9" height="13.3" fill="#808080"/>
<rect x="1193.8" y="966" width="5.9" height="13.3" fill="#808080"/>
<text x="1252.50" y="979.00" font-family="Liberation Sans, sans-serif" font-size="26.00" font-weight="normal" font-style="normal" text-anchor="start"  textLength="286.02" lengthAdjust="spacingAndGlyphs">Approximate decision line</text>
<rect x="1000.1" y="1007.3" width="20.8" height="10.3" fill="#08aa08"/>
<rect x="1031.1" y="1007.3" width="5.3" height="10.3" fill="#08aa08"/>
<rect x="1046.5" y="1007.3" width="20.8" height="10.3" fill="#08aa08"/>
<rect x="1077.6" y="1007.3" width="5.0" height="10.3" fill="#08aa08"/>
<rect x="1092.9" y="1007.3" width="20.9" height="10.3" fill="#08aa08"/>
<rect x="1124.0" y="1007.3" width="5.0" height="10.3" fill="#08aa08"/>
<text x="1146.53" y="1020.50" font-family="Liberation Sans, sans-serif" font-size="26.00" font-weight="normal" font-style="normal" text-anchor="start"  textLength="495.25" lengthAdjust="spacingAndGlyphs">Invariant manifold for the presented stimulus</text>
</svg>
</body>
</html>
